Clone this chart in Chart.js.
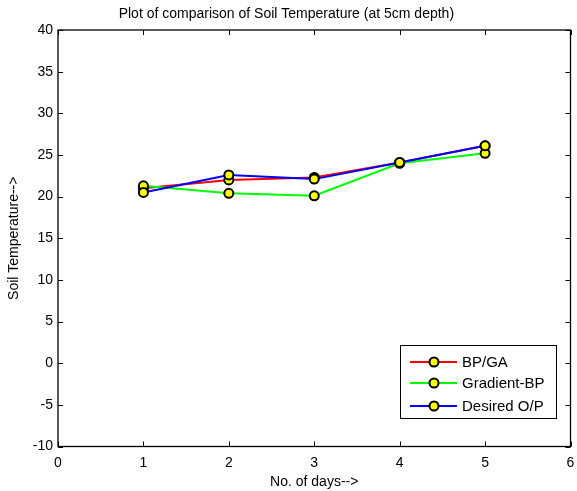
<!DOCTYPE html>
<html>
<head>
<meta charset="utf-8">
<script src="https://cdn.jsdelivr.net/npm/chart.js@4"></script>
<style>
html,body{margin:0;padding:0;background:#fff;}
#wrap{width:577px;height:491px;}
</style>
</head>
<body>
<div id="wrap"><canvas id="c" width="577" height="491"></canvas></div>
<script>
const days = [1, 2, 3, 4, 5];
const bpga = [21.0, 22.0, 22.3, 24.1, 26.1];
const gradientBP = [21.3, 20.4, 20.1, 24.0, 25.2];
const desired = [20.5, 22.6, 22.1, 24.1, 26.1];
const seriesNames = ['BP/GA', 'Gradient-BP', 'Desired O/P'];
const seriesColors = ['#ff0000', '#00ff00', '#0000ff'];
const titleText = 'Plot of comparison of Soil Temperature (at 5cm depth)';
const xTitle = 'No. of days-->';
const yTitle = 'Soil Temperature-->';

const FONT = '"Liberation Sans", Arial, sans-serif';
const FS = 14;

function mk(vals, i, order) {
  return {
    label: seriesNames[i],
    data: days.map((d, k) => ({x: d, y: vals[k]})),
    borderColor: seriesColors[i],
    backgroundColor: seriesColors[i],
    borderWidth: 2,
    pointRadius: 4.5,
    pointBorderWidth: 2,
    pointBorderColor: '#000',
    pointBackgroundColor: '#ffff00',
    tension: 0,
    order: order,
    clip: false
  };
}

const framePlugin = {
  id: 'frame',
  afterDatasetsDraw(chart) {
    const ctx = chart.ctx, a = chart.chartArea;
    ctx.save();
    ctx.strokeStyle = '#000';
    ctx.lineWidth = 1.3;
    ctx.strokeRect(a.left, a.top, a.right - a.left, a.bottom - a.top);
    const tl = 5;
    ctx.lineWidth = 1;
    ctx.beginPath();
    const xs = chart.scales.x;
    xs.ticks.forEach(t => {
      const px = Math.round(xs.getPixelForValue(t.value)) + 0.5;
      ctx.moveTo(px, a.bottom); ctx.lineTo(px, a.bottom - tl);
      ctx.moveTo(px, a.top); ctx.lineTo(px, a.top + tl);
    });
    const ys = chart.scales.y;
    ys.ticks.forEach(t => {
      const py = Math.round(ys.getPixelForValue(t.value)) + 0.5;
      ctx.moveTo(a.left, py); ctx.lineTo(a.left + tl, py);
      ctx.moveTo(a.right, py); ctx.lineTo(a.right - tl, py);
    });
    ctx.stroke();

    // legend box
    const bx = a.left + 342, by = a.top + 315, bw = 156, bh = 73;
    ctx.fillStyle = '#fff';
    ctx.fillRect(bx, by, bw, bh);
    ctx.lineWidth = 1;
    ctx.strokeRect(bx + 0.5, by + 0.5, bw, bh);
    ctx.font = '15px ' + FONT;
    ctx.textBaseline = 'middle';
    ctx.textAlign = 'left';
    const rows = [17, 38, 61];
    chart.data.datasets.forEach((ds, i) => {
      const ry = by + rows[i];
      ctx.strokeStyle = ds.borderColor;
      ctx.lineWidth = 2;
      ctx.beginPath();
      ctx.moveTo(bx + 10, ry); ctx.lineTo(bx + 57, ry);
      ctx.stroke();
      ctx.beginPath();
      ctx.arc(bx + 34, ry, 4.5, 0, Math.PI * 2);
      ctx.fillStyle = '#ffff00';
      ctx.fill();
      ctx.lineWidth = 2;
      ctx.strokeStyle = '#000';
      ctx.stroke();
      ctx.fillStyle = '#000';
      ctx.fillText(ds.label, bx + 62, ry + 1);
    });
    ctx.restore();
  }
};

new Chart(document.getElementById('c'), {
  type: 'line',
  data: {
    datasets: [mk(bpga, 0, 2), mk(gradientBP, 1, 1), mk(desired, 2, 0)]
  },
  options: {
    responsive: false,
    animation: false,
    devicePixelRatio: 1,
    layout: {padding: {left: 0, right: 4.3, top: 0, bottom: 0}},
    plugins: {
      legend: {display: false},
      tooltip: {enabled: false},
      title: {
        display: true,
        text: titleText,
        color: '#000',
        font: {family: FONT, size: FS, weight: 'normal'},
        padding: {top: 5.6, bottom: 7.6}
      }
    },
    scales: {
      x: {
        type: 'linear',
        min: 0, max: 6,
        grid: {display: false, drawTicks: false},
        border: {display: false},
        ticks: {stepSize: 1, color: '#000', font: {family: FONT, size: FS}, padding: 8, maxRotation: 0},
        title: {display: true, text: xTitle, color: '#000', font: {family: FONT, size: FS}, padding: {top: 0, bottom: 0.6}},
        afterFit(s) { s.height = 44.5; s.paddingLeft = 0; s.paddingRight = 0; }
      },
      y: {
        min: -10, max: 40,
        grid: {display: false, drawTicks: false},
        border: {display: false},
        ticks: {stepSize: 5, color: '#000', font: {family: FONT, size: FS}, padding: 5},
        title: {display: true, text: yTitle, color: '#000', font: {family: FONT, size: FS}, padding: {top: 5.6, bottom: 0}},
        afterFit(s) { s.width = 58; s.paddingTop = 0; s.paddingBottom = 0; }
      }
    }
  },
  plugins: [framePlugin]
});
</script>
</body>
</html>
